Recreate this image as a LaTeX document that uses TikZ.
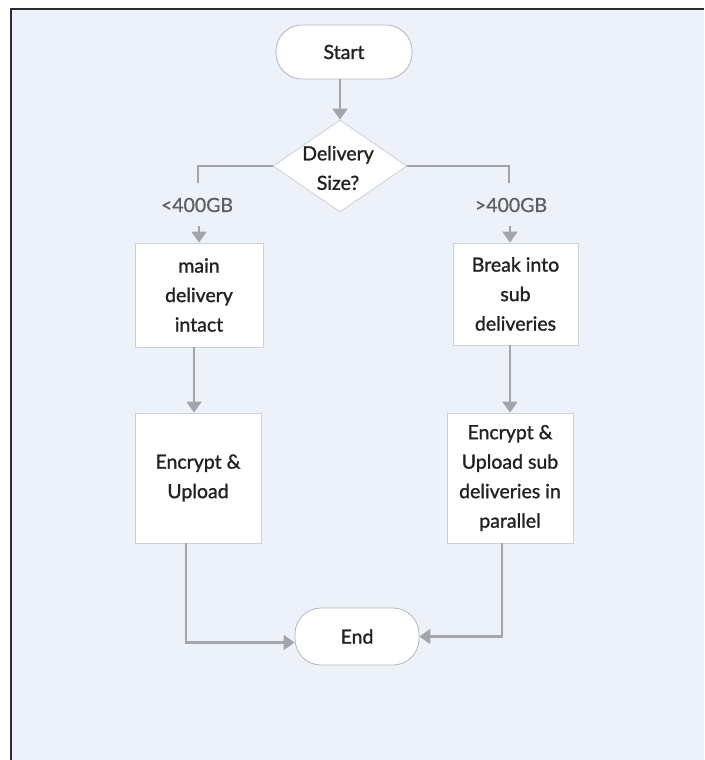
\documentclass[tikz,border=0pt]{standalone}
\usepackage{fontspec}
\setmainfont{Lato}
\newfontfamily\boxfont{Lato}[FakeBold=1.3]
\newfontfamily\tagfont{Lato}[FakeBold=0.6]
\usetikzlibrary{shapes.geometric,arrows.meta}
\definecolor{canvas}{HTML}{EDF1F9}
\definecolor{framec}{HTML}{2E2E2E}
\definecolor{wire}{HTML}{A2A6AB}
\definecolor{edgec}{HTML}{CDD1D6}
\definecolor{termedge}{HTML}{B4B8BC}
\definecolor{ink}{HTML}{222222}
\definecolor{labelink}{HTML}{5E5E5E}

\begin{document}
\begin{tikzpicture}[x=1pt,y=-1pt,
  base/.style={font=\boxfont\fontsize{19.5}{29.5}\selectfont, text=ink, align=center, inner sep=0pt},
  terminal/.style={base, draw=termedge, fill=white, line width=0.8pt, rounded corners=26pt},
  process/.style={base, draw=edgec, fill=white, line width=0.8pt},
  decision/.style={diamond, draw=edgec, fill=white, line width=0.8pt, inner sep=0pt},
  branchlabel/.style={base, font=\tagfont\fontsize{19.5}{29.5}\selectfont, text=labelink},
  link/.style={draw=wire, line width=2.2pt},
  flow/.style={link, -{Triangle[width=15pt,length=11pt]}}
]
  % page and frame
  \useasboundingbox (0,0) rectangle (704,760);
  \fill[canvas] (11,9) rectangle (704,760);
  \draw[framec, line width=2pt] (11,760) -- (11,9) -- (704,9);

  % nodes
  \node[terminal, minimum width=136pt, minimum height=54pt] (start) at (344,52) {Start};
  \node[decision, minimum width=134pt, minimum height=92pt] (dec) at (340,166) {};
  \node[base] (dectext) at (338,168) {Delivery\\Size?};

  \node[branchlabel] (small) at (197,205) {<400GB};
  \node[branchlabel] (large) at (511,205) {>400GB};

  \node[process, minimum width=128pt, minimum height=104pt] (main) at (199,295) {main\\delivery\\intact};
  \node[process, minimum width=125pt, minimum height=102pt] (split) at (515.5,294) {Break into\\sub\\deliveries};

  \node[process, minimum width=126pt, minimum height=130pt] (encone) at (198,478) {Encrypt \&\\Upload};
  \node[process, minimum width=126pt, minimum height=130pt] (encsub) at (510,478) {Encrypt \&\\Upload sub\\deliveries in\\parallel};

  \node[terminal, minimum width=124pt, minimum height=57pt] (end) at (357,636.5) {End};

  % connectors
  \coordinate (smalltop) at (198,183);
  \coordinate (largetop) at (509,183);
  \draw[flow] ([xshift=-4pt]start.south) -- ([xshift=-4pt]start.south |- dec.north);
  \draw[link] (dec.west) -| (smalltop);
  \draw[link] (dec.east) -| (largetop);
  \draw[flow] ([yshift=-14pt]small.south -| main.north) -- (main.north);
  \draw[flow] ([yshift=-14pt]large.south -| encsub.north) -- (encsub.north |- split.north);
  \draw[flow] ([xshift=-5pt]main.south) -- ([xshift=-5pt]main.south |- encone.north);
  \draw[flow] (encsub.north |- split.south) -- (encsub.north);
  \draw[flow] ([xshift=-12pt]encone.south) |- ([yshift=-6pt]end.west);
  \draw[flow] ([xshift=-8pt]encsub.south) |- (end.east);
\end{tikzpicture}
\end{document}
